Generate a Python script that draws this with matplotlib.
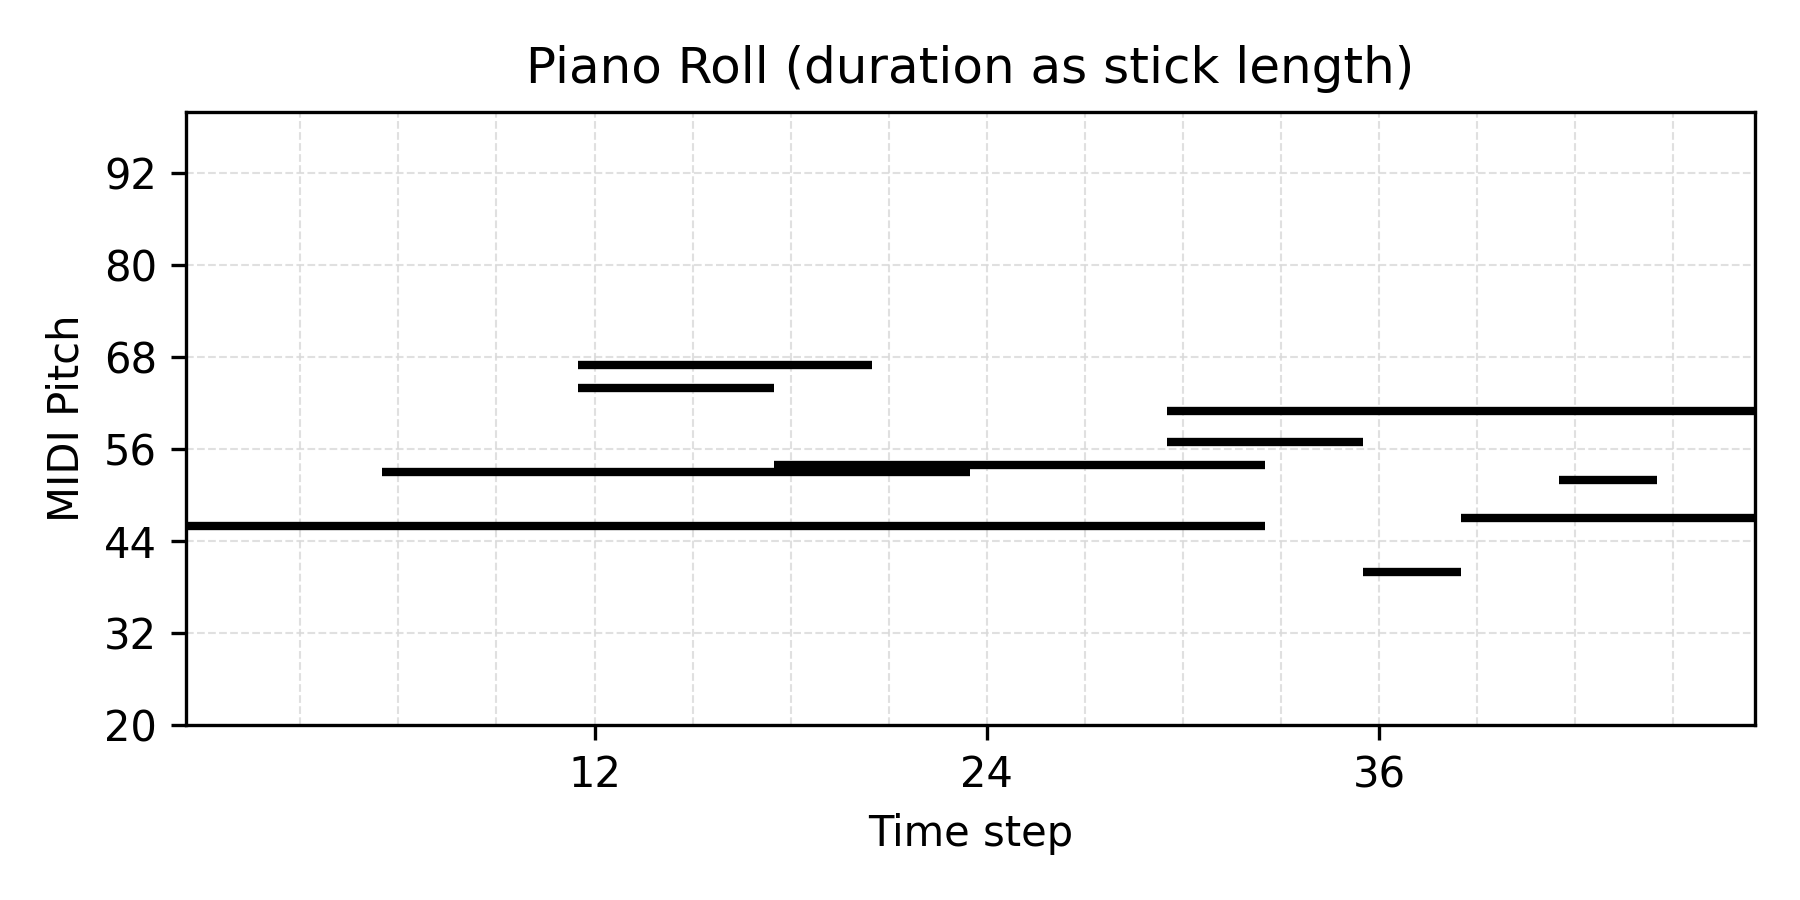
#
# piano roll: each note drawn as a horizontal stick
#
import matplotlib
matplotlib.use("Agg")
import matplotlib.pyplot as plt
import numpy as np

# note data
pitches   = [46, 53, 54, 64, 67, 61, 57, 52, 47, 40]
starts    = [0,  6,  18, 12, 12, 30, 30, 42, 39, 36]
durations = [33, 18, 15, 6,  9,  18, 6,  3,  9,  3]

x_major = [12, 24, 36]
x_minor = list(range(3, 48, 3))
y_ticks = [20, 32, 44, 56, 68, 80, 92]

if __name__ == "__main__":
    fig, ax = plt.subplots(figsize=(6, 3), dpi=300)

    p = np.array(pitches)
    s = np.array(starts) - 0.5
    e = s + np.array(durations)
    ax.hlines(p, s, e, colors='black', linewidth=2.0, zorder=3)

    ax.set_xlim(-0.5, 47.5)
    ax.set_ylim(20, 100)
    ax.set_xticks(x_major)
    ax.set_xticks(x_minor, minor=True)
    ax.set_yticks(y_ticks)
    ax.tick_params(which='minor', length=0)
    ax.grid(True, which='both', linestyle='--', color='#d9d9d9', linewidth=0.5, alpha=0.8)

    ax.set_xlabel("Time step")
    ax.set_ylabel("MIDI Pitch")
    ax.set_title("Piano Roll (duration as stick length)", pad=7)
    fig.tight_layout()
    fig.savefig("out.png")
